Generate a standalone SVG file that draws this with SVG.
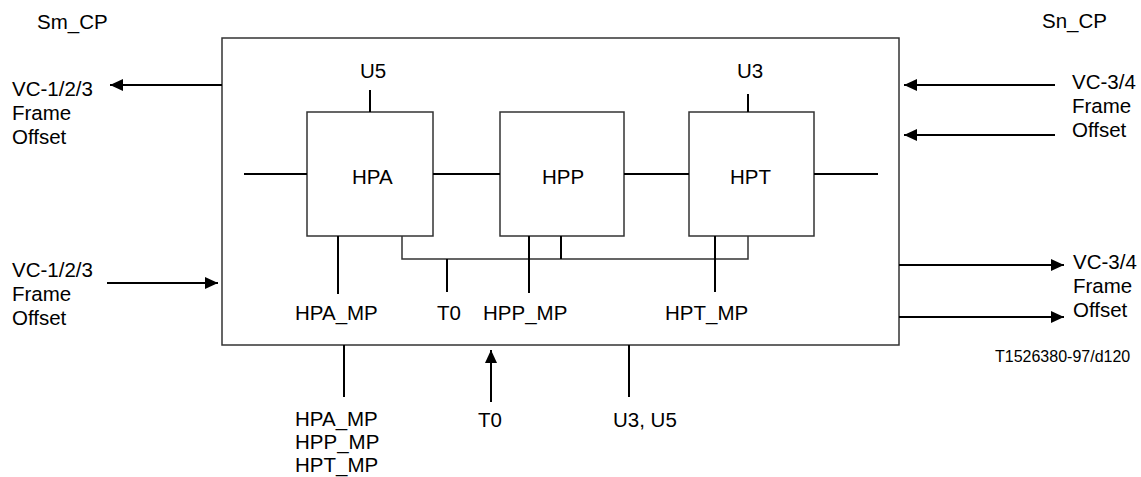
<svg xmlns="http://www.w3.org/2000/svg" width="1141" height="477" viewBox="0 0 1141 477">
<style>
text{font-family:"Liberation Sans",Arial,sans-serif;font-size:20.5px;fill:#000}
.small{font-size:16px}
.box{fill:none;stroke:#333;stroke-width:1.5}
.ln{fill:none;stroke:#000;stroke-width:2}
.ar{fill:none;stroke:#000;stroke-width:2;marker-end:url(#ah)}
</style>
<defs>
<marker id="ah" markerUnits="userSpaceOnUse" markerWidth="14" markerHeight="14" viewBox="0 0 14 14" refX="13" refY="7" orient="auto">
<path d="M0,1 L13,7 L0,13 Z" fill="#000"/>
</marker>
</defs>
<g id="outer"><rect class="box" x="222" y="38" width="677" height="307"/></g>
<g id="HPA"><rect class="box" x="307" y="112" width="126" height="124"/><text x="352" y="184">HPA</text></g>
<g id="HPP"><rect class="box" x="500" y="112" width="124" height="124"/><text x="542" y="184">HPP</text></g>
<g id="HPT"><rect class="box" x="689" y="112" width="125" height="124"/><text x="730" y="184">HPT</text></g>
<g id="connectors">
<line class="ln" x1="370" y1="90" x2="370" y2="112"/>
<line class="ln" x1="748" y1="94" x2="748" y2="112"/>
<line class="ln" x1="244" y1="174" x2="307" y2="174"/>
<line class="ln" x1="433" y1="174" x2="500" y2="174"/>
<line class="ln" x1="624" y1="174" x2="689" y2="174"/>
<line class="ln" x1="814" y1="174" x2="878" y2="174"/>
<polyline class="box" points="402,236 402,259 748,259 748,236"/>
<line class="ln" x1="561" y1="236" x2="561" y2="259"/>
<line class="ln" x1="447" y1="259" x2="447" y2="292"/>
<line class="ln" x1="529" y1="236" x2="529" y2="293"/>
<line class="ln" x1="338" y1="236" x2="338" y2="294"/>
<line class="ln" x1="715" y1="236" x2="715" y2="292"/>
<line class="ar" x1="222" y1="85" x2="110" y2="85"/>
<line class="ar" x1="107" y1="283" x2="218" y2="283"/>
<line class="ar" x1="1055" y1="85" x2="904" y2="85"/>
<line class="ar" x1="1055" y1="135" x2="904" y2="135"/>
<line class="ar" x1="899" y1="265" x2="1064" y2="265"/>
<line class="ar" x1="899" y1="317" x2="1064" y2="317"/>
<line class="ln" x1="344" y1="345" x2="344" y2="397"/>
<line class="ar" x1="491" y1="402" x2="491" y2="350"/>
<line class="ln" x1="629" y1="345" x2="629" y2="397"/>
</g>
<g id="labels">
<text x="37" y="29">Sm_CP</text>
<text x="1042" y="28">Sn_CP</text>
<text x="360" y="78">U5</text>
<text x="737" y="78">U3</text>
<text x="12" y="96">VC-1/2/3</text>
<text x="12" y="120">Frame</text>
<text x="12" y="144">Offset</text>
<text x="1072" y="89">VC-3/4</text>
<text x="1072" y="113">Frame</text>
<text x="1072" y="137">Offset</text>
<text x="12" y="277">VC-1/2/3</text>
<text x="12" y="301">Frame</text>
<text x="12" y="325">Offset</text>
<text x="1073" y="269">VC-3/4</text>
<text x="1073" y="293">Frame</text>
<text x="1073" y="317">Offset</text>
<text x="295" y="320">HPA_MP</text>
<text x="437" y="320">T0</text>
<text x="483" y="320">HPP_MP</text>
<text x="665" y="320">HPT_MP</text>
<text class="small" x="995" y="362">T1526380-97/d120</text>
<text x="295" y="426">HPA_MP</text>
<text x="295" y="449">HPP_MP</text>
<text x="295" y="472">HPT_MP</text>
<text x="478" y="427">T0</text>
<text x="613" y="427">U3, U5</text>
</g>
</svg>
